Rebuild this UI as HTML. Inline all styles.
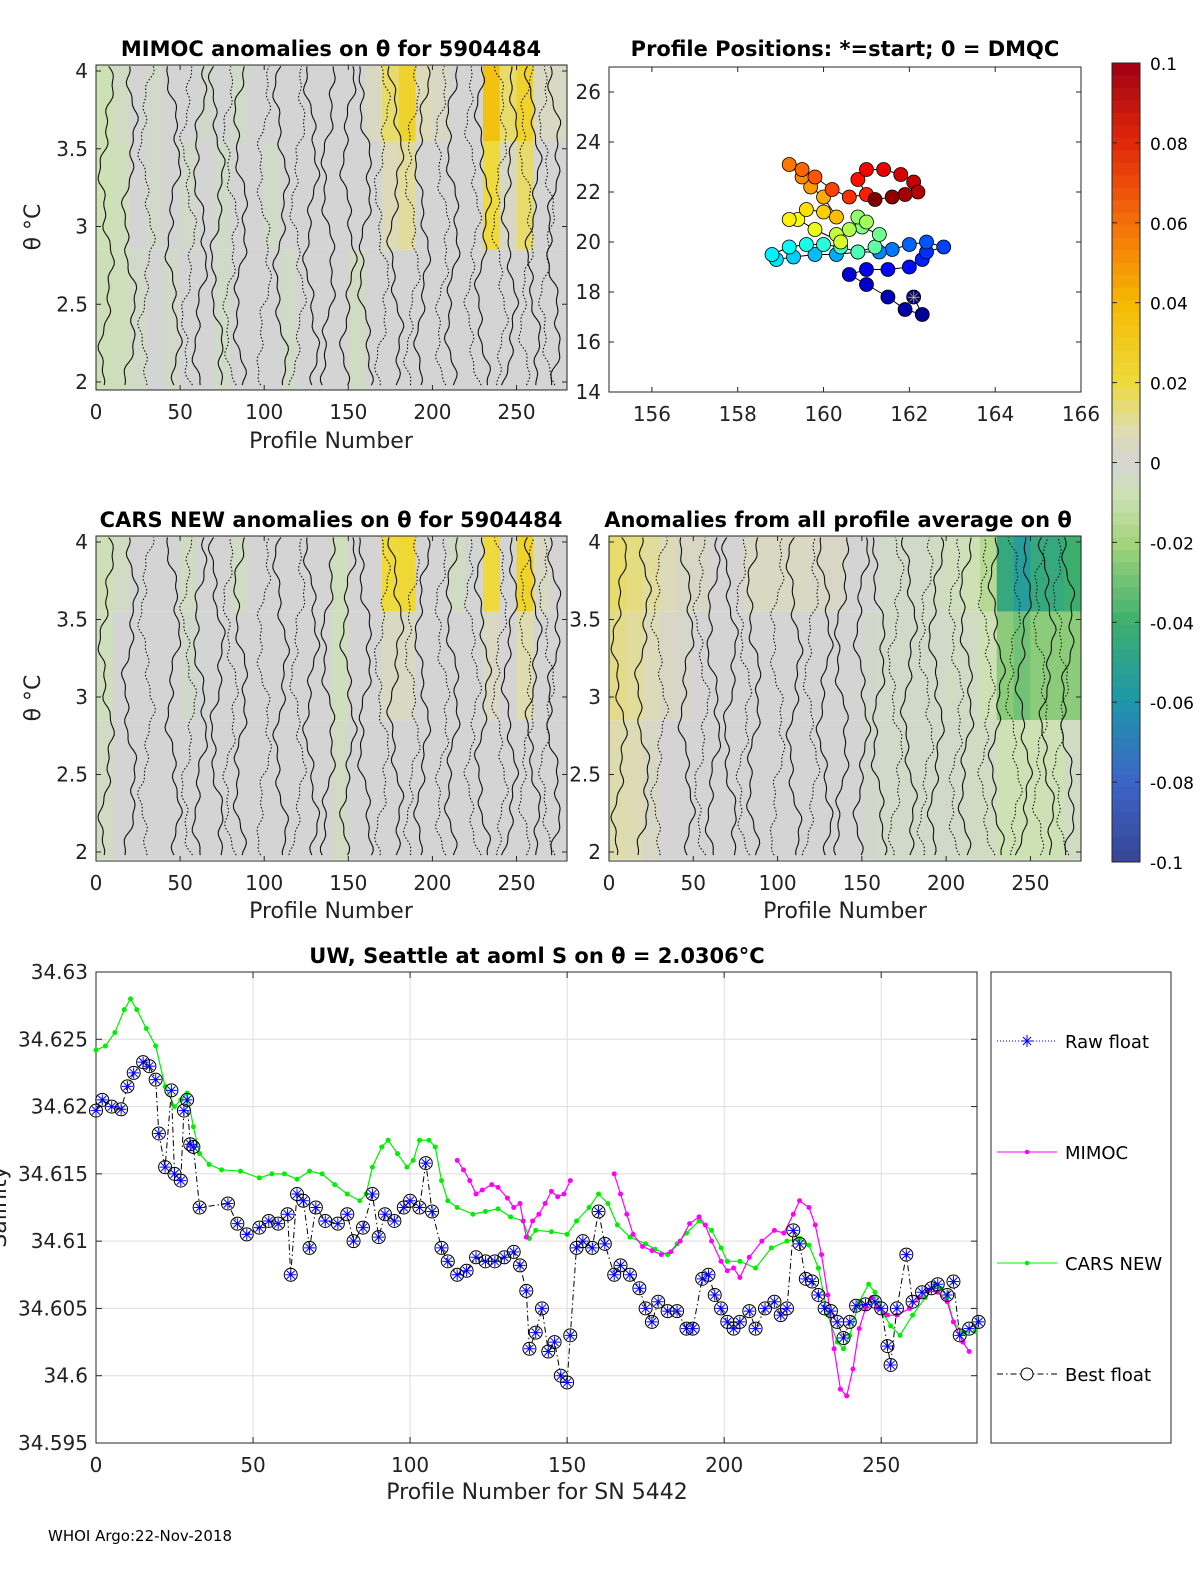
<!DOCTYPE html>
<html><head><meta charset="utf-8"><style>
html,body{margin:0;padding:0;background:#fff;}
svg{display:block;font-family:"DejaVu Sans","Liberation Sans",sans-serif;}
.t{font-size:17px;fill:#000}
.ttl{font-size:21px;font-weight:bold;fill:#000;font-family:"DejaVu Sans","Liberation Sans",sans-serif}
.lab{font-size:20px;fill:#222;font-family:"DejaVu Sans","Liberation Sans",sans-serif}
.big{font-size:22px;fill:#222;font-family:"DejaVu Sans","Liberation Sans",sans-serif}
</style></head><body>
<svg id="fig" width="1200" height="1575" viewBox="0 0 1200 1575" xmlns="http://www.w3.org/2000/svg"></svg>
<script>
// ---------- DATA ----------
const mimocTop=[-0.008,-0.004,0,-0.003,0,0,-0.002,0,-0.003,0,0,0,0,0,0,0,0.004,0.015,0.025,0.006,0.003,0,0,0.035,0.015,0.025,0.004,0.004];
const mimocMid=[-0.008,-0.006,0,-0.003,0,-0.003,0,-0.003,0,0,-0.003,0,0,0,0,0,0,0.006,0.01,0,0,0,0,0.02,0.003,0.015,0,0];
const mimocLow=[-0.007,-0.006,-0.003,0,-0.003,0,0,-0.003,0,0,0,-0.003,0,0,0,-0.004,0,0,0,0,0,0,0,0,0,0,0,0];
const carsTop=[-0.007,-0.004,0,0,0,-0.004,0,0,-0.004,0,0,0,0,0,-0.006,0,0,0.02,0.022,0,0,-0.004,0,0.02,0,0.025,0.004,0];
const carsMid=[-0.006,0,0,0,0,-0.002,0,0,0,0,0,0,0,0,-0.006,0,0,0.004,0.004,0,0,0,0,0.004,0,0.008,0,0];
const carsLow=[-0.004,0,0,0,0,0,0,0,0,0,0,0,0,0,-0.004,0,0,0,0,0,0,0,0,0,0,0,0,0];
const avgTop=[0.015,0.013,0.01,0.006,0.003,0.003,0,0,0.004,0.004,0.004,0.004,0.003,0.003,0,0,-0.003,-0.003,-0.003,-0.004,-0.006,-0.008,-0.015,-0.045,-0.055,-0.045,-0.045,-0.04];
const avgMid=[0.012,0.01,0.006,0.003,0.002,0,0,0,0,0,0,0,0,0,0,-0.002,-0.003,-0.003,-0.003,-0.003,-0.004,-0.004,-0.008,-0.025,-0.03,-0.025,-0.025,-0.025];
const avgLow=[0.008,0.007,0.003,0,0,0,0,0,0,0,0,0,0,0,0,-0.002,-0.003,-0.003,-0.003,-0.003,-0.003,-0.004,-0.004,-0.008,-0.008,-0.008,-0.008,-0.004];
const contourSolid=[6,20,46,62,72,86,110,128,138,150,160,178,194,212,230,246,260,272];
const contourDotted=[30,55,80,100,120,170,188,206,224,240,256,268];
const mapLon=[162.1,162.3,161.9,161.5,161.0,160.6,161.0,161.5,162.0,162.3,162.4,162.8,162.4,162.0,161.6,161.3,160.8,160.3,159.8,159.3,158.9,158.8,159.2,159.6,160.0,160.4,160.8,161.2,161.3,160.9,160.8,161.0,160.6,160.3,160.4,159.8,159.4,159.2,159.6,160.0,160.3,160.0,159.7,159.5,159.2,159.5,159.8,160.2,160.6,161.0,160.8,161.0,161.4,161.8,162.1,162.2,161.9,161.6,161.2];
const mapLat=[17.8,17.1,17.3,17.8,18.3,18.7,18.9,18.9,19.0,19.3,19.6,19.8,20.0,19.9,19.7,19.6,19.6,19.5,19.5,19.4,19.3,19.5,19.8,19.9,19.9,19.8,19.6,19.8,20.3,20.6,21.0,20.8,20.5,20.3,20.0,20.5,20.9,20.9,21.3,21.2,21.0,21.8,22.2,22.6,23.1,22.9,22.6,22.1,21.8,21.9,22.5,22.9,22.9,22.7,22.4,22.0,21.9,21.8,21.7];
const bestX=[0,2,5,8,10,12,15,17,19,20,22,24,25,27,28,29,30,31,33,42,45,48,52,55,58,61,62,64,66,68,70,73,77,80,82,85,88,90,92,95,98,100,103,105,107,110,112,115,118,121,124,127,130,133,135,137,138,140,142,144,146,148,150,151,153,155,158,160,162,165,167,170,173,175,177,179,182,185,188,190,193,195,197,199,201,203,205,208,210,213,216,218,220,222,224,226,228,230,232,234,236,238,240,242,245,248,250,252,253,255,258,260,263,266,268,271,273,275,278,281];
const bestY=[34.6197,34.6205,34.6200,34.6198,34.6215,34.6225,34.6233,34.6230,34.6220,34.6180,34.6155,34.6212,34.6150,34.6145,34.6197,34.6205,34.6172,34.6170,34.6125,34.6128,34.6113,34.6105,34.6110,34.6115,34.6113,34.6120,34.6075,34.6135,34.6130,34.6095,34.6125,34.6115,34.6113,34.6120,34.6100,34.6110,34.6135,34.6103,34.6120,34.6115,34.6125,34.6130,34.6125,34.6158,34.6122,34.6095,34.6085,34.6075,34.6078,34.6088,34.6085,34.6085,34.6088,34.6092,34.6082,34.6063,34.6020,34.6032,34.6050,34.6018,34.6025,34.6000,34.5995,34.6030,34.6095,34.6100,34.6095,34.6122,34.6098,34.6075,34.6082,34.6075,34.6065,34.6050,34.6040,34.6055,34.6048,34.6048,34.6035,34.6035,34.6072,34.6075,34.6060,34.6050,34.6040,34.6035,34.6040,34.6048,34.6035,34.6050,34.6055,34.6045,34.6050,34.6108,34.6098,34.6072,34.6070,34.6060,34.6050,34.6048,34.6040,34.6028,34.6040,34.6052,34.6053,34.6055,34.6050,34.6022,34.6008,34.6050,34.6090,34.6055,34.6062,34.6065,34.6068,34.6060,34.6070,34.6030,34.6035,34.6040];
const carsX=[0,3,6,9,11,13,16,19,22,25,27,29,31,33,36,40,46,52,56,60,64,68,72,76,80,84,86,88,91,93,96,99,101,103,106,108,110,112,115,120,124,128,132,136,138,140,145,150,153,157,160,163,166,170,175,178,182,185,188,192,196,199,201,205,210,215,220,224,227,230,233,236,238,240,243,246,248,251,253,256,260,264,267,269,271,273,276,280];
const carsY=[34.6242,34.6245,34.6255,34.6272,34.6280,34.6272,34.6258,34.6245,34.6215,34.6200,34.6205,34.6210,34.6185,34.6165,34.6157,34.6153,34.6152,34.6147,34.6150,34.6150,34.6146,34.6152,34.6150,34.6142,34.6135,34.6130,34.6135,34.6155,34.6170,34.6175,34.6165,34.6155,34.6160,34.6175,34.6175,34.6170,34.6145,34.6130,34.6125,34.6120,34.6122,34.6124,34.6118,34.6115,34.6102,34.6108,34.6107,34.6105,34.6115,34.6125,34.6135,34.6128,34.6112,34.6103,34.6098,34.6094,34.6090,34.6098,34.6106,34.6115,34.6108,34.6095,34.6085,34.6085,34.6080,34.6095,34.6100,34.6102,34.6097,34.6080,34.6045,34.6025,34.6020,34.6030,34.6055,34.6068,34.6062,34.6045,34.6037,34.6030,34.6045,34.6058,34.6067,34.6065,34.6058,34.6040,34.6032,34.6033];
const mimocX=[115,117,119,121,123,126,128,131,133,135,136,137,139,141,143,145,147,149,151,null,165,167,169,171,174,177,180,183,186,189,192,194,196,199,201,203,205,208,212,216,219,222,224,227,229,231,233,235,237,239,241,243,245,247,249,252,255,259,262,265,268,271,273,276,278];
const mimocY=[34.6160,34.6153,34.6145,34.6135,34.6138,34.6142,34.6140,34.6132,34.6125,34.6128,34.6115,34.6103,34.6115,34.6120,34.6128,34.6137,34.6133,34.6135,34.6145,null,34.6150,34.6135,34.6120,34.6105,34.6096,34.6093,34.6090,34.6092,34.6100,34.6113,34.6118,34.6112,34.6100,34.6085,34.6078,34.6080,34.6073,34.6088,34.6100,34.6108,34.6106,34.6120,34.6130,34.6125,34.6112,34.6090,34.6060,34.6020,34.5990,34.5985,34.6005,34.6035,34.6050,34.6058,34.6050,34.6045,34.6045,34.6050,34.6058,34.6063,34.6062,34.6055,34.6040,34.6025,34.6018];
const cbarTicks=[0.1,0.08,0.06,0.04,0.02,0,-0.02,-0.04,-0.06,-0.08,-0.1];
const thetaTicks=[2,2.5,3,3.5,4];
const profTicks=[0,50,100,150,200,250];
const lonTicks=[156,158,160,162,164,166];
const latTicks=[14,16,18,20,22,24,26];
const salTicks=[34.595,34.6,34.605,34.61,34.615,34.62,34.625,34.63];

// ---------- HELPERS ----------
const NS="http://www.w3.org/2000/svg";
const svg=document.getElementById('fig');
function mk(tag,attrs,parent){const e=document.createElementNS(NS,tag);for(const k in attrs)e.setAttribute(k,attrs[k]);(parent||svg).appendChild(e);return e;}
function txt(s,x,y,cls,anchor,extra){const e=mk('text',Object.assign({x:x,y:y,class:cls||'t','text-anchor':anchor||'middle'},extra||{}));e.textContent=s;return e;}
const stops=[[-0.1,[55,70,150]],[-0.08,[60,100,200]],[-0.06,[30,150,170]],[-0.04,[60,175,110]],[-0.02,[165,212,125]],[-0.008,[205,225,180]],[0,[212,212,212]],[0.008,[222,220,175]],[0.02,[238,218,60]],[0.04,[245,185,0]],[0.06,[245,110,10]],[0.08,[225,40,10]],[0.1,[160,0,20]]];
function cmap(v){v=Math.max(-0.1,Math.min(0.1,v));for(let i=0;i<stops.length-1;i++){const a=stops[i],b=stops[i+1];if(v<=b[0]){const t=(v-a[0])/(b[0]-a[0]);const c=a[1].map((x,j)=>Math.round(x+(b[1][j]-x)*t));return `rgb(${c[0]},${c[1]},${c[2]})`;}}return 'rgb(160,0,20)';}

// ---------- HEATMAP PANELS ----------
function heat(name,x0,x1,yTop,yBot,yOf4,yOf2,top,mid,low){
  const g=mk('g',{});
  
  
  const xs=p=>x0+(p/280)*(x1-x0);
  const ys=t=>yOf2+(t-2)*(yOf4-yOf2)/2;
  const bands=[[4.05,3.55,top],[3.55,2.85,mid],[2.85,1.95,low]];
  bands.forEach(b=>{b[2].forEach((v,i)=>{
    const r=mk('rect',{x:xs(i*10),y:Math.max(yTop,ys(b[0])),width:xs(10)-xs(0)+0.6,height:Math.min(yBot,ys(b[1]))-Math.max(yTop,ys(b[0])),fill:cmap(v)},g);
    
    
  });});
  function wig(p,dash){let d='';for(let t=1.98;t<=4.03;t+=0.025){const xx=xs(p)+Math.sin(t*5.3+p)*5+Math.sin(t*17+p*0.7)*2.5+Math.sin(t*41+p*1.3)*1.5;d+=(d?'L':'M')+xx.toFixed(1)+','+ys(t).toFixed(1);}
    const l=mk('path',{d:d,fill:'none',stroke:'#111','stroke-width':1.1,'stroke-dasharray':dash?'1.5,2':'none'},g);
    
    }
  contourSolid.forEach(p=>wig(p,false));
  contourDotted.forEach(p=>wig(p,true));
  mk('rect',{x:x0,y:yTop,width:x1-x0,height:yBot-yTop,fill:'none',stroke:'#262626','stroke-width':1},g);
  profTicks.forEach(p=>{mk('line',{x1:xs(p),x2:xs(p),y1:yBot,y2:yBot-5,stroke:'#262626'},g);mk('line',{x1:xs(p),x2:xs(p),y1:yTop,y2:yTop+5,stroke:'#262626'},g);
    const l=txt(String(p),xs(p),yBot+29,'lab');});
  thetaTicks.forEach(t=>{mk('line',{x1:x0,x2:x0+5,y1:ys(t),y2:ys(t),stroke:'#262626'},g);mk('line',{x1:x1,x2:x1-5,y1:ys(t),y2:ys(t),stroke:'#262626'},g);
    const l=txt(String(t),x0-8,ys(t)+7,'lab','end');});
}
heat('mimoc-heatmap',96,567,65,390,71,382,mimocTop,mimocMid,mimocLow);
heat('cars-heatmap',96,567,536,861,542,852,carsTop,carsMid,carsLow);
heat('average-heatmap',609,1081,536,861,542,852,avgTop,avgMid,avgLow);

// titles & labels
[['MIMOC anomalies on θ  for 5904484',331,56,'title-mimoc'],['Profile Positions: *=start; 0 = DMQC',845,56,'title-positions'],['CARS NEW anomalies on θ for 5904484',331,527,'title-cars'],['Anomalies from all profile average on θ',838,527,'title-average'],['UW, Seattle at aoml S on θ = 2.0306°C',537,963,'title-salinity']].forEach(a=>{const e=txt(a[0],a[1],a[2],'ttl');});
[['Profile Number',331,448,'x-axis-title-mimoc'],['Profile Number',331,918,'x-axis-title-cars'],['Profile Number',845,918,'x-axis-title-average'],['Profile Number for SN 5442',537,1499,'x-axis-title-salinity']].forEach(a=>{const e=txt(a[0],a[1],a[2],'big');});
[[227,'y-axis-title-mimoc'],[698,'y-axis-title-cars']].forEach(a=>{const e=txt('θ °C',40,a[0],'big','middle',{transform:`rotate(-90 40 ${a[0]})`});});
{const e=txt('Salinity',6,1207,'big','middle',{transform:'rotate(-90 6 1207)'});}
{const e=txt('WHOI Argo:22-Nov-2018',48,1541,'t','start',{style:'font-size:15px'});}

// ---------- MAP ----------
(function(){
  const g=mk('g',{});
  
  
  const x0=609,x1=1081,yT=67,yB=392;
  const xs=l=>x0+(l-155)*(x1-x0)/11;
  const ys=l=>yB-(l-14)*(yB-yT)/13;
  mk('rect',{x:x0,y:yT,width:x1-x0,height:yB-yT,fill:'#fff',stroke:'#262626'},g);
  lonTicks.forEach(l=>{mk('line',{x1:xs(l),x2:xs(l),y1:yB,y2:yB-5,stroke:'#262626'},g);mk('line',{x1:xs(l),x2:xs(l),y1:yT,y2:yT+5,stroke:'#262626'},g);
    const e=txt(String(l),xs(l),yB+29,'lab');});
  latTicks.forEach(l=>{mk('line',{x1:x0,x2:x0+5,y1:ys(l),y2:ys(l),stroke:'#262626'},g);mk('line',{x1:x1,x2:x1-5,y1:ys(l),y2:ys(l),stroke:'#262626'},g);
    const e=txt(String(l),x0-8,ys(l)+7,'lab','end');});
  const n=mapLon.length;
  const jet=t=>{const r=Math.min(1,Math.max(0,1.5-Math.abs(4*t-3))),gg=Math.min(1,Math.max(0,1.5-Math.abs(4*t-2))),b=Math.min(1,Math.max(0,1.5-Math.abs(4*t-1)));return `rgb(${Math.round(r*255)},${Math.round(gg*255)},${Math.round(b*255)})`;};
  const path=mapLon.map((l,i)=>(i?'L':'M')+xs(l).toFixed(1)+','+ys(mapLat[i]).toFixed(1)).join('');
  mk('path',{d:path,fill:'none',stroke:'#000','stroke-width':1},g);
  mapLon.forEach((l,i)=>{const c=mk('circle',{cx:xs(l),cy:ys(mapLat[i]),r:7,fill:jet(i/(n-1)),stroke:'#000','stroke-width':0.8},g);
    
    });
  const s=txt('✳',xs(mapLon[0]),ys(mapLat[0])+6,'t','middle',{style:'font-size:16px;fill:#fff;stroke:#444;stroke-width:0.5'});
  
  
})();

// ---------- COLORBAR ----------
(function(){
  const g=mk('g',{});
  
  
  const x=1112,w=28,yT=63,yB=862,N=64;
  for(let i=0;i<N;i++){const v=0.1-(i+0.5)*0.2/N;mk('rect',{x:x,y:yT+i*(yB-yT)/N,width:w,height:(yB-yT)/N+0.5,fill:cmap(v)},g);}
  mk('rect',{x:x,y:yT,width:w,height:yB-yT,fill:'none',stroke:'#262626'},g);
  cbarTicks.forEach(v=>{const y=yT+(0.1-v)/0.2*(yB-yT);mk('line',{x1:x+w-5,x2:x+w,y1:y,y2:y,stroke:'#262626'},g);mk('line',{x1:x,x2:x+5,y1:y,y2:y,stroke:'#262626'},g);
    const e=txt(String(v),x+w+10,y+7,'t','start',{style:'font-size:17px'});});
})();

// ---------- SALINITY LINE CHART ----------
(function(){
  const g=mk('g',{});
  
  
  const x0=96,x1=977,yT=972,yB=1443;
  const xs=p=>x0+p*(x1-x0)/280.5;
  const ys=v=>yB-(v-34.595)*(yB-yT)/0.035;
  mk('rect',{x:x0,y:yT,width:x1-x0,height:yB-yT,fill:'#fff',stroke:'#262626'},g);
  profTicks.forEach(p=>{mk('line',{x1:xs(p),x2:xs(p),y1:yT,y2:yB,stroke:'#dedede'},g);mk('line',{x1:xs(p),x2:xs(p),y1:yB,y2:yB-6,stroke:'#262626'},g);mk('line',{x1:xs(p),x2:xs(p),y1:yT,y2:yT+6,stroke:'#262626'},g);
    const e=txt(String(p),xs(p),yB+29,'lab');});
  salTicks.forEach(v=>{mk('line',{x1:x0,x2:x1,y1:ys(v),y2:ys(v),stroke:'#dedede'},g);mk('line',{x1:x0,x2:x0+6,y1:ys(v),y2:ys(v),stroke:'#262626'},g);mk('line',{x1:x1,x2:x1-6,y1:ys(v),y2:ys(v),stroke:'#262626'},g);
    const e=txt(String(v),x0-8,ys(v)+7,'lab','end');});
  mk('rect',{x:x0,y:yT,width:x1-x0,height:yB-yT,fill:'none',stroke:'#262626'},g);
  function path(X,Y){let d='',pen=false;X.forEach((x,i)=>{if(x===null||Y[i]===null){pen=false;return;}d+=(pen?'L':'M')+xs(x).toFixed(1)+','+ys(Y[i]).toFixed(1);pen=true;});return d;}
  const gl=mk('path',{d:path(carsX,carsY),fill:'none',stroke:'#00ee00','stroke-width':1.2},g);
  
  
  carsX.forEach((x,i)=>{mk('circle',{cx:xs(x),cy:ys(carsY[i]),r:2.5,fill:'#00ee00'},g);});
  const ml=mk('path',{d:path(mimocX,mimocY),fill:'none',stroke:'#ff00ff','stroke-width':1.2},g);
  
  
  mimocX.forEach((x,i)=>{if(x!==null)mk('circle',{cx:xs(x),cy:ys(mimocY[i]),r:2.5,fill:'#ff00ff'},g);});
  const bl=mk('path',{d:path(bestX,bestY),fill:'none',stroke:'#000','stroke-width':1,'stroke-dasharray':'6,3,1.5,3'},g);
  
  
  bestX.forEach((x,i)=>{const cx=xs(x),cy=ys(bestY[i]);
    const c=mk('circle',{cx:cx,cy:cy,r:6.5,fill:'none',stroke:'#000','stroke-width':1},g);
    
    
    mk('path',{d:`M${cx-5.5},${cy}H${cx+5.5}M${cx},${cy-5.5}V${cy+5.5}M${cx-4},${cy-4}L${cx+4},${cy+4}M${cx-4},${cy+4}L${cx+4},${cy-4}`,stroke:'#0000ff','stroke-width':1},g);});
  // legend
  const lg=mk('g',{});
  
  
  mk('rect',{x:991,y:972,width:180,height:471,fill:'#fff',stroke:'#262626'},lg);
  const items=[['Raw float',1041,'#0000ff','1,2','star'],['MIMOC',1152,'#ff00ff','none','dot'],['CARS NEW',1263,'#00ee00','none','dot'],['Best float',1374,'#000','6,3,1.5,3','circ']];
  items.forEach(it=>{const e=mk('g',{},lg);
    
    
    mk('line',{x1:997,x2:1057,y1:it[1],y2:it[1],stroke:it[2],'stroke-dasharray':it[3]},e);
    if(it[4]==='dot')mk('circle',{cx:1027,cy:it[1],r:2.3,fill:it[2]},e);
    if(it[4]==='circ')mk('circle',{cx:1027,cy:it[1],r:6,fill:'#fff',stroke:'#000'},e);
    if(it[4]==='star')mk('path',{d:`M1021,${it[1]}H1033M1027,${it[1]-6}V${it[1]+6}M1023,${it[1]-4}L1031,${it[1]+4}M1023,${it[1]+4}L1031,${it[1]-4}`,stroke:'#0000ff'},e);
    const t=txt(it[0],1065,it[1]+7,'t','start',{style:'font-size:18px'});e.appendChild(t);});
})();
</script>
</body></html>
